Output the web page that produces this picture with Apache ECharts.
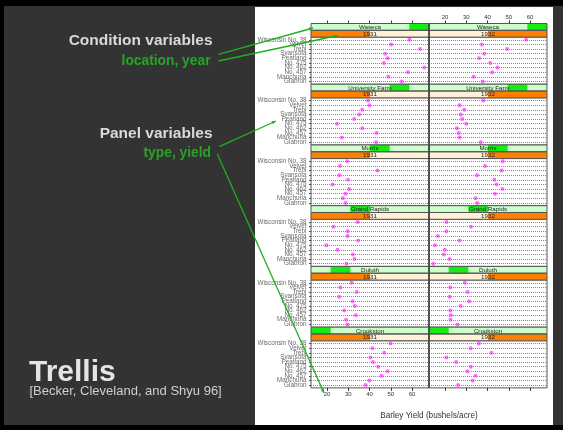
<!DOCTYPE html>
<html><head><meta charset="utf-8">
<script src="https://cdn.jsdelivr.net/npm/echarts@6/dist/echarts.min.js"></script>
<style>html,body{margin:0;padding:0;background:#000}#c{width:563px;height:430px}</style>
</head><body><div id="c"></div>
<script>
// ---------- data (top-to-bottom variety order) ----------
const varieties = ['Wisconsin No. 38','Velvet','Trebi','Svansota','Peatland','No. 475','No. 462','No. 457','Manchuria','Glabron'];
const locations = ['Waseca','University Farm','Morris','Grand Rapids','Duluth','Crookston'];
const years = ['1931','1932'];
const xTicks = [20,30,40,50,60];

const waseca1931    = [58.80,50.23,63.83,47.33,48.57,46.77,65.77,58.10,48.87,55.20];
const waseca1932    = [58.17,37.40,49.23,38.50,36.03,41.27,44.70,42.20,33.47,37.73];
const uniFarm1931   = [39.30,39.90,36.57,35.13,32.77,24.67,36.60,43.27,27.00,43.07];
const uniFarm1932   = [38.00,26.87,29.07,27.43,28.07,30.00,25.57,26.43,26.90,36.80];
const morris1931    = [29.47,26.13,43.77,25.77,29.87,22.60,30.37,28.70,27.43,28.77];
const morris1932    = [47.17,38.83,46.63,35.03,43.20,44.23,47.00,43.53,34.37,35.13];
const grandRap1931  = [34.47,23.03,29.77,29.67,34.70,19.70,24.93,32.17,32.97,29.13];
const grandRap1932  = [20.67,32.23,20.63,16.63,26.77,15.23,19.90,19.47,22.13,14.43];
const duluth1931    = [31.60,26.30,33.93,25.70,32.00,33.07,28.10,33.60,28.97,29.67];
const duluth1932    = [29.33,22.47,30.60,22.23,31.37,27.37,22.50,22.70,22.57,25.87];
const crookston1931 = [49.87,41.33,46.93,40.47,41.60,44.10,48.57,45.67,39.93,38.13];
const crookston1932 = [35.90,32.07,41.83,20.63,25.23,32.13,30.53,34.33,32.97,26.17];

const panelValues = [
  [waseca1931, waseca1932],
  [uniFarm1931, uniFarm1932],
  [morris1931, morris1932],
  [grandRap1931, grandRap1932],
  [duluth1931, duluth1932],
  [crookston1931, crookston1932]
];

// ---------- layout / style ----------
const FONT = '"Liberation Sans", Arial, Helvetica, sans-serif';
const L = {colLeft:[311,429], colW:118, top0:23.5, blockH:60.73, stripH:6.8};
const panelH = L.blockH - 2*L.stripH;
const xMin = 12.45, xMax = 68.0;
const nVar = varieties.length;
const rowPos = varieties.map((v,k)=>nVar-k);
const GREEN = '#1fb01f';

const grids=[], xAxes=[], yAxes=[], series=[], graphics=[];

// slide background
graphics.push({type:'rect', z:-10, shape:{x:4,y:6,width:559,height:419}, style:{fill:'#333333'}});
graphics.push({type:'rect', z:-9, shape:{x:255,y:7,width:298,height:418}, style:{fill:'#ffffff'}});

locations.forEach((loc,i)=>{
  years.forEach((yr,c)=>{
    const gi = grids.length;
    const stripTop = L.top0 + i*L.blockH;
    const top = stripTop + 2*L.stripH;
    const x0 = L.colLeft[c];
    const isTop = i===0, isBottom = i===locations.length-1;
    grids.push({left:x0, top:top, width:L.colW, height:panelH, show:true, borderColor:'#555', borderWidth:1,
      backgroundColor:'transparent', containLabel:false, outerBoundsMode:'none'});
    xAxes.push({type:'value', gridIndex:gi, min:xMin, max:xMax, position:isTop?'top':'bottom',
      offset:isTop?2*L.stripH:0, show:isTop||isBottom,
      axisLine:{show:false}, splitLine:{show:false},
      axisTick:{show:true, customValues:xTicks, length:3, lineStyle:{color:'#333'}},
      axisLabel:{show:(isTop&&c===1)||(isBottom&&c===0), customValues:xTicks, showMinLabel:true, showMaxLabel:true,
        hideOverlap:false, fontSize:6, color:'#333', margin:3, fontFamily:FONT}});
    yAxes.push({type:'value', gridIndex:gi, min:0.4, max:10.6, show:c===0,
      axisLine:{show:false}, splitLine:{show:false},
      axisTick:{show:true, customValues:rowPos, length:2, lineStyle:{color:'#555'}},
      axisLabel:{show:false}});
    // row guide lines
    series.push({type:'scatter', xAxisIndex:gi, yAxisIndex:gi, data:[], silent:true, z:1,
      markLine:{silent:true, symbol:['none','none'], label:{show:false}, animation:false,
        lineStyle:{color:'#888', type:[1,1], width:1}, data:rowPos.map(p=>({yAxis:p}))}});
    // variety labels (left column only)
    if (c===0) {
      series.push({type:'scatter', xAxisIndex:gi, yAxisIndex:gi, silent:true, clip:false, z:4,
        symbolSize:1, itemStyle:{color:'rgba(0,0,0,0)'},
        data:varieties.map((v,k)=>({value:[xMin, nVar-k], name:v})),
        label:{show:true, position:'left', distance:4, formatter:p=>p.name, fontSize:6.3, color:'#444', fontFamily:FONT},
        labelLayout:{hideOverlap:false}});
    }
    // points
    series.push({type:'scatter', xAxisIndex:gi, yAxisIndex:gi, silent:true, z:3,
      data:panelValues[i][c].map((v,k)=>[v, nVar-k]), symbolSize:4, itemStyle:{color:'#ff44ff'}});

    // location strip
    const nLoc = locations.length, lev = nLoc-1-i, w = L.colW;
    graphics.push({type:'rect', z:5, shape:{x:x0,y:stripTop,width:w,height:L.stripH}, style:{fill:'#ccffcc'}});
    graphics.push({type:'rect', z:5, shape:{x:x0+lev*w/nLoc,y:stripTop,width:w/nLoc,height:L.stripH}, style:{fill:'#11ee11'}});
    graphics.push({type:'rect', z:6, shape:{x:x0,y:stripTop,width:w,height:L.stripH}, style:{fill:'none',stroke:'#555',lineWidth:1}});
    graphics.push({type:'text', z:7, x:x0+w/2, y:stripTop+L.stripH/2+0.3, style:{text:loc, fill:'#222', font:'6.2px '+FONT, align:'center', verticalAlign:'middle'}});
    // year strip
    const yTop = stripTop + L.stripH;
    graphics.push({type:'rect', z:5, shape:{x:x0,y:yTop,width:w,height:L.stripH}, style:{fill:'#fff0d6'}});
    graphics.push({type:'rect', z:5, shape:{x:x0+c*w/years.length,y:yTop,width:w/years.length,height:L.stripH}, style:{fill:'#ff7f00'}});
    graphics.push({type:'rect', z:6, shape:{x:x0,y:yTop,width:w,height:L.stripH}, style:{fill:'none',stroke:'#555',lineWidth:1}});
    graphics.push({type:'text', z:7, x:x0+w/2, y:yTop+L.stripH/2+0.3, style:{text:yr, fill:'#222', font:'6.2px '+FONT, align:'center', verticalAlign:'middle'}});
  });
});

// column divider (darker)
graphics.push({type:'line', z:8, shape:{x1:429,y1:L.top0,x2:429,y2:L.top0+6*L.blockH}, style:{stroke:'#444',lineWidth:1.5}});

// axis title
graphics.push({type:'text', z:7, x:429, y:416, style:{text:'Barley Yield (bushels/acre)', fill:'#333', font:'8.2px '+FONT, align:'center', verticalAlign:'middle'}});

// slide texts
graphics.push({type:'text', z:7, x:212.5, y:41, style:{text:'Condition variables', fill:'#d9d9d9', font:'bold 15.5px '+FONT, align:'right', verticalAlign:'middle'}});
graphics.push({type:'text', z:7, x:210.5, y:61, style:{text:'location, year', fill:'#27a427', font:'bold 13.8px '+FONT, align:'right', verticalAlign:'middle'}});
graphics.push({type:'text', z:7, x:212.5, y:133.5, style:{text:'Panel variables', fill:'#d9d9d9', font:'bold 15.5px '+FONT, align:'right', verticalAlign:'middle'}});
graphics.push({type:'text', z:7, x:211, y:153, style:{text:'type, yield', fill:'#27a427', font:'bold 13.8px '+FONT, align:'right', verticalAlign:'middle'}});
graphics.push({type:'text', z:7, x:29, y:373, style:{text:'Trellis', fill:'#e4e4e4', font:'bold 30px '+FONT, align:'left', verticalAlign:'middle'}});
graphics.push({type:'text', z:7, x:29.5, y:391.5, style:{text:'[Becker, Cleveland, and Shyu 96]', fill:'#cfcfcf', font:'13px '+FONT, align:'left', verticalAlign:'middle'}});

// connectors
function connector(x1,y1,x2,y2){
  const a=Math.atan2(y2-y1,x2-x1), s=4.5;
  graphics.push({type:'line', z:20, shape:{x1,y1,x2,y2}, style:{stroke:GREEN,lineWidth:1.3}});
  graphics.push({type:'polygon', z:20, shape:{points:[[x2,y2],[x2-s*Math.cos(a-0.4),y2-s*Math.sin(a-0.4)],[x2-s*Math.cos(a+0.4),y2-s*Math.sin(a+0.4)]]}, style:{fill:GREEN}});
}
connector(218.5,54.3,313,28);
connector(218.5,61,338,35.5);
connector(219.3,146.7,276,121);
connector(217.3,154,324,393);

const chart = echarts.init(document.getElementById('c'), null, {renderer:'canvas', width:563, height:430});
chart.setOption({
  backgroundColor:'#000',
  animation:false,
  grid:grids, xAxis:xAxes, yAxis:yAxes, series:series,
  graphic:{elements:graphics}
});
</script></body></html>
